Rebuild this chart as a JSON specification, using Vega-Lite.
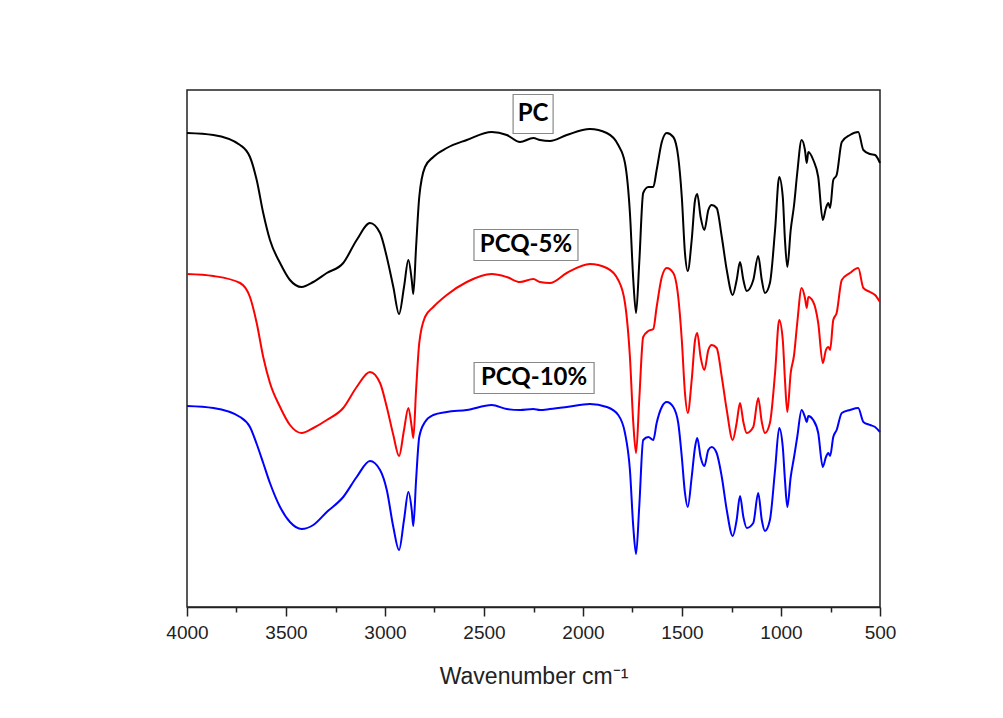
{
  "$schema": "https://vega.github.io/schema/vega-lite/v6.json",
  "width": 693,
  "height": 517,
  "autosize": {"type": "none"},
  "padding": {"left": 187, "top": 90, "right": 123, "bottom": 111},
  "background": "white",
  "config": {"view": {"stroke": "#222", "strokeWidth": 1.5}},
  "datasets": {
    "spectra": [
      {"w":4000,"PC":474,"Q5":333,"Q10":201},
      {"w":3867,"PC":472,"Q5":331,"Q10":199},
      {"w":3732,"PC":462,"Q5":324,"Q10":190},
      {"w":3682,"PC":450,"Q5":310,"Q10":180},
      {"w":3648,"PC":427,"Q5":284,"Q10":163},
      {"w":3615,"PC":394,"Q5":250,"Q10":144},
      {"w":3581,"PC":367,"Q5":224,"Q10":124},
      {"w":3530,"PC":344,"Q5":200,"Q10":100},
      {"w":3480,"PC":327,"Q5":182,"Q10":85},
      {"w":3421,"PC":320,"Q5":174,"Q10":78},
      {"w":3362,"PC":325,"Q5":179,"Q10":82},
      {"w":3294,"PC":334,"Q5":187,"Q10":95},
      {"w":3211,"PC":344,"Q5":199,"Q10":110},
      {"w":3143,"PC":367,"Q5":220,"Q10":130},
      {"w":3076,"PC":384,"Q5":235,"Q10":146},
      {"w":3025,"PC":374,"Q5":224,"Q10":137},
      {"w":2991,"PC":350,"Q5":200,"Q10":117},
      {"w":2958,"PC":320,"Q5":172,"Q10":80},
      {"w":2929,"PC":293,"Q5":151,"Q10":57},
      {"w":2904,"PC":320,"Q5":177,"Q10":87},
      {"w":2882,"PC":347,"Q5":199,"Q10":115},
      {"w":2865,"PC":327,"Q5":180,"Q10":97},
      {"w":2857,"PC":313,"Q5":169,"Q10":81},
      {"w":2843,"PC":360,"Q5":217,"Q10":127},
      {"w":2827,"PC":410,"Q5":264,"Q10":170},
      {"w":2798,"PC":440,"Q5":290,"Q10":185},
      {"w":2756,"PC":450,"Q5":300,"Q10":192},
      {"w":2688,"PC":459,"Q5":312,"Q10":195},
      {"w":2587,"PC":467,"Q5":325,"Q10":197},
      {"w":2461,"PC":475,"Q5":333,"Q10":202},
      {"w":2385,"PC":472,"Q5":330,"Q10":198},
      {"w":2318,"PC":465,"Q5":325,"Q10":197},
      {"w":2251,"PC":469,"Q5":328,"Q10":198},
      {"w":2217,"PC":467,"Q5":325,"Q10":197},
      {"w":2167,"PC":466,"Q5":324,"Q10":198},
      {"w":2082,"PC":472,"Q5":334,"Q10":200},
      {"w":1965,"PC":478,"Q5":343,"Q10":203},
      {"w":1880,"PC":474,"Q5":339,"Q10":200},
      {"w":1822,"PC":462,"Q5":327,"Q10":192},
      {"w":1788,"PC":444,"Q5":304,"Q10":174},
      {"w":1763,"PC":394,"Q5":250,"Q10":137},
      {"w":1746,"PC":327,"Q5":184,"Q10":80},
      {"w":1732,"PC":294,"Q5":154,"Q10":53},
      {"w":1716,"PC":344,"Q5":207,"Q10":100},
      {"w":1696,"PC":414,"Q5":270,"Q10":167},
      {"w":1670,"PC":420,"Q5":276,"Q10":170},
      {"w":1645,"PC":420,"Q5":278,"Q10":167},
      {"w":1628,"PC":437,"Q5":300,"Q10":184},
      {"w":1602,"PC":465,"Q5":330,"Q10":200},
      {"w":1577,"PC":474,"Q5":339,"Q10":205},
      {"w":1544,"PC":470,"Q5":334,"Q10":200},
      {"w":1519,"PC":450,"Q5":310,"Q10":184},
      {"w":1501,"PC":410,"Q5":267,"Q10":150},
      {"w":1485,"PC":354,"Q5":214,"Q10":114},
      {"w":1471,"PC":336,"Q5":194,"Q10":100},
      {"w":1451,"PC":367,"Q5":227,"Q10":130},
      {"w":1434,"PC":407,"Q5":267,"Q10":160},
      {"w":1423,"PC":413,"Q5":274,"Q10":169},
      {"w":1406,"PC":390,"Q5":250,"Q10":150},
      {"w":1387,"PC":377,"Q5":237,"Q10":141},
      {"w":1367,"PC":397,"Q5":257,"Q10":157},
      {"w":1350,"PC":402,"Q5":262,"Q10":160},
      {"w":1325,"PC":399,"Q5":259,"Q10":154},
      {"w":1299,"PC":370,"Q5":230,"Q10":130},
      {"w":1274,"PC":337,"Q5":197,"Q10":97},
      {"w":1244,"PC":312,"Q5":167,"Q10":71},
      {"w":1224,"PC":327,"Q5":184,"Q10":87},
      {"w":1207,"PC":345,"Q5":204,"Q10":111},
      {"w":1190,"PC":327,"Q5":185,"Q10":90},
      {"w":1173,"PC":316,"Q5":174,"Q10":79},
      {"w":1140,"PC":327,"Q5":180,"Q10":84},
      {"w":1115,"PC":351,"Q5":209,"Q10":114},
      {"w":1097,"PC":327,"Q5":185,"Q10":87},
      {"w":1081,"PC":314,"Q5":174,"Q10":76},
      {"w":1056,"PC":324,"Q5":184,"Q10":87},
      {"w":1030,"PC":377,"Q5":234,"Q10":137},
      {"w":1009,"PC":430,"Q5":287,"Q10":179},
      {"w":991,"PC":410,"Q5":267,"Q10":160},
      {"w":980,"PC":367,"Q5":227,"Q10":127},
      {"w":968,"PC":340,"Q5":195,"Q10":100},
      {"w":951,"PC":377,"Q5":234,"Q10":130},
      {"w":934,"PC":402,"Q5":252,"Q10":150},
      {"w":918,"PC":434,"Q5":284,"Q10":170},
      {"w":896,"PC":467,"Q5":319,"Q10":197},
      {"w":879,"PC":457,"Q5":309,"Q10":190},
      {"w":870,"PC":444,"Q5":299,"Q10":185},
      {"w":862,"PC":455,"Q5":310,"Q10":191},
      {"w":837,"PC":447,"Q5":305,"Q10":187},
      {"w":812,"PC":430,"Q5":284,"Q10":174},
      {"w":789,"PC":387,"Q5":244,"Q10":140},
      {"w":773,"PC":399,"Q5":257,"Q10":150},
      {"w":761,"PC":404,"Q5":260,"Q10":154},
      {"w":752,"PC":399,"Q5":257,"Q10":151},
      {"w":736,"PC":427,"Q5":287,"Q10":170},
      {"w":719,"PC":432,"Q5":294,"Q10":177},
      {"w":693,"PC":465,"Q5":327,"Q10":194},
      {"w":652,"PC":472,"Q5":334,"Q10":197},
      {"w":610,"PC":475,"Q5":339,"Q10":199},
      {"w":584,"PC":457,"Q5":319,"Q10":185},
      {"w":550,"PC":453,"Q5":315,"Q10":182},
      {"w":525,"PC":452,"Q5":312,"Q10":180},
      {"w":500,"PC":444,"Q5":305,"Q10":175}
    ],
    "labels": [
      {"label": "PC", "w": 2252, "t": 493},
      {"label": "PCQ-5%", "w": 2288, "t": 362},
      {"label": "PCQ-10%", "w": 2247, "t": 229}
    ]
  },
  "layer": [
    {
      "data": {"name": "spectra"},
      "transform": [{"fold": ["PC", "Q5", "Q10"], "as": ["series", "t"]}],
      "mark": {"type": "line", "strokeWidth": 2, "interpolate": "monotone"},
      "encoding": {
        "x": {
          "field": "w", "type": "quantitative",
          "scale": {"domain": [4000, 500], "nice": false, "zero": false},
          "axis": {
            "values": [4000, 3750, 3500, 3250, 3000, 2750, 2500, 2250, 2000, 1750, 1500, 1250, 1000, 750, 500],
            "format": "d",
            "labelExpr": "datum.value % 500 === 0 ? datum.label : ''",
            "tickSize": {"condition": {"test": "datum.value % 500 === 0", "value": 9}, "value": 5},
            "tickColor": "#222", "tickWidth": 1.5,
            "domainColor": "#222", "domainWidth": 1.5,
            "grid": false,
            "labelFlush": false, "labelOverlap": false,
            "labelFont": "Liberation Sans", "labelFontSize": 19, "labelColor": "#222", "labelPadding": 7,
            "title": "Wavenumber cm⁻¹",
            "titleFont": "Liberation Sans", "titleFontSize": 23, "titleFontWeight": "normal", "titleColor": "#222", "titlePadding": 23
          }
        },
        "y": {"field": "t", "type": "quantitative", "scale": {"domain": [0, 517], "nice": false}, "axis": null},
        "color": {
          "field": "series", "type": "nominal",
          "scale": {"domain": ["PC", "Q5", "Q10"], "range": ["#000000", "#ff0000", "#0000ff"]},
          "legend": null
        }
      }
    },
    {
      "data": {"name": "labels"},
      "transform": [{"filter": "datum.label === 'PC'"}],
      "mark": {"type": "rect", "width": 40, "height": 39, "fill": "white", "stroke": "#888", "strokeWidth": 1.2},
      "encoding": {"x": {"field": "w", "type": "quantitative"}, "y": {"field": "t", "type": "quantitative"}}
    },
    {
      "data": {"name": "labels"},
      "transform": [{"filter": "datum.label === 'PCQ-5%'"}],
      "mark": {"type": "rect", "width": 104, "height": 31, "fill": "white", "stroke": "#888", "strokeWidth": 1.2},
      "encoding": {"x": {"field": "w", "type": "quantitative"}, "y": {"field": "t", "type": "quantitative"}}
    },
    {
      "data": {"name": "labels"},
      "transform": [{"filter": "datum.label === 'PCQ-10%'"}],
      "mark": {"type": "rect", "width": 120, "height": 31, "fill": "white", "stroke": "#888", "strokeWidth": 1.2},
      "encoding": {"x": {"field": "w", "type": "quantitative"}, "y": {"field": "t", "type": "quantitative"}}
    },
    {
      "data": {"name": "labels"},
      "mark": {"type": "text", "font": "Lato", "fontWeight": "bold", "fontSize": 24, "color": "#000", "align": "center", "baseline": "middle"},
      "encoding": {
        "x": {"field": "w", "type": "quantitative"},
        "y": {"field": "t", "type": "quantitative"},
        "text": {"field": "label"}
      }
    }
  ]
}
